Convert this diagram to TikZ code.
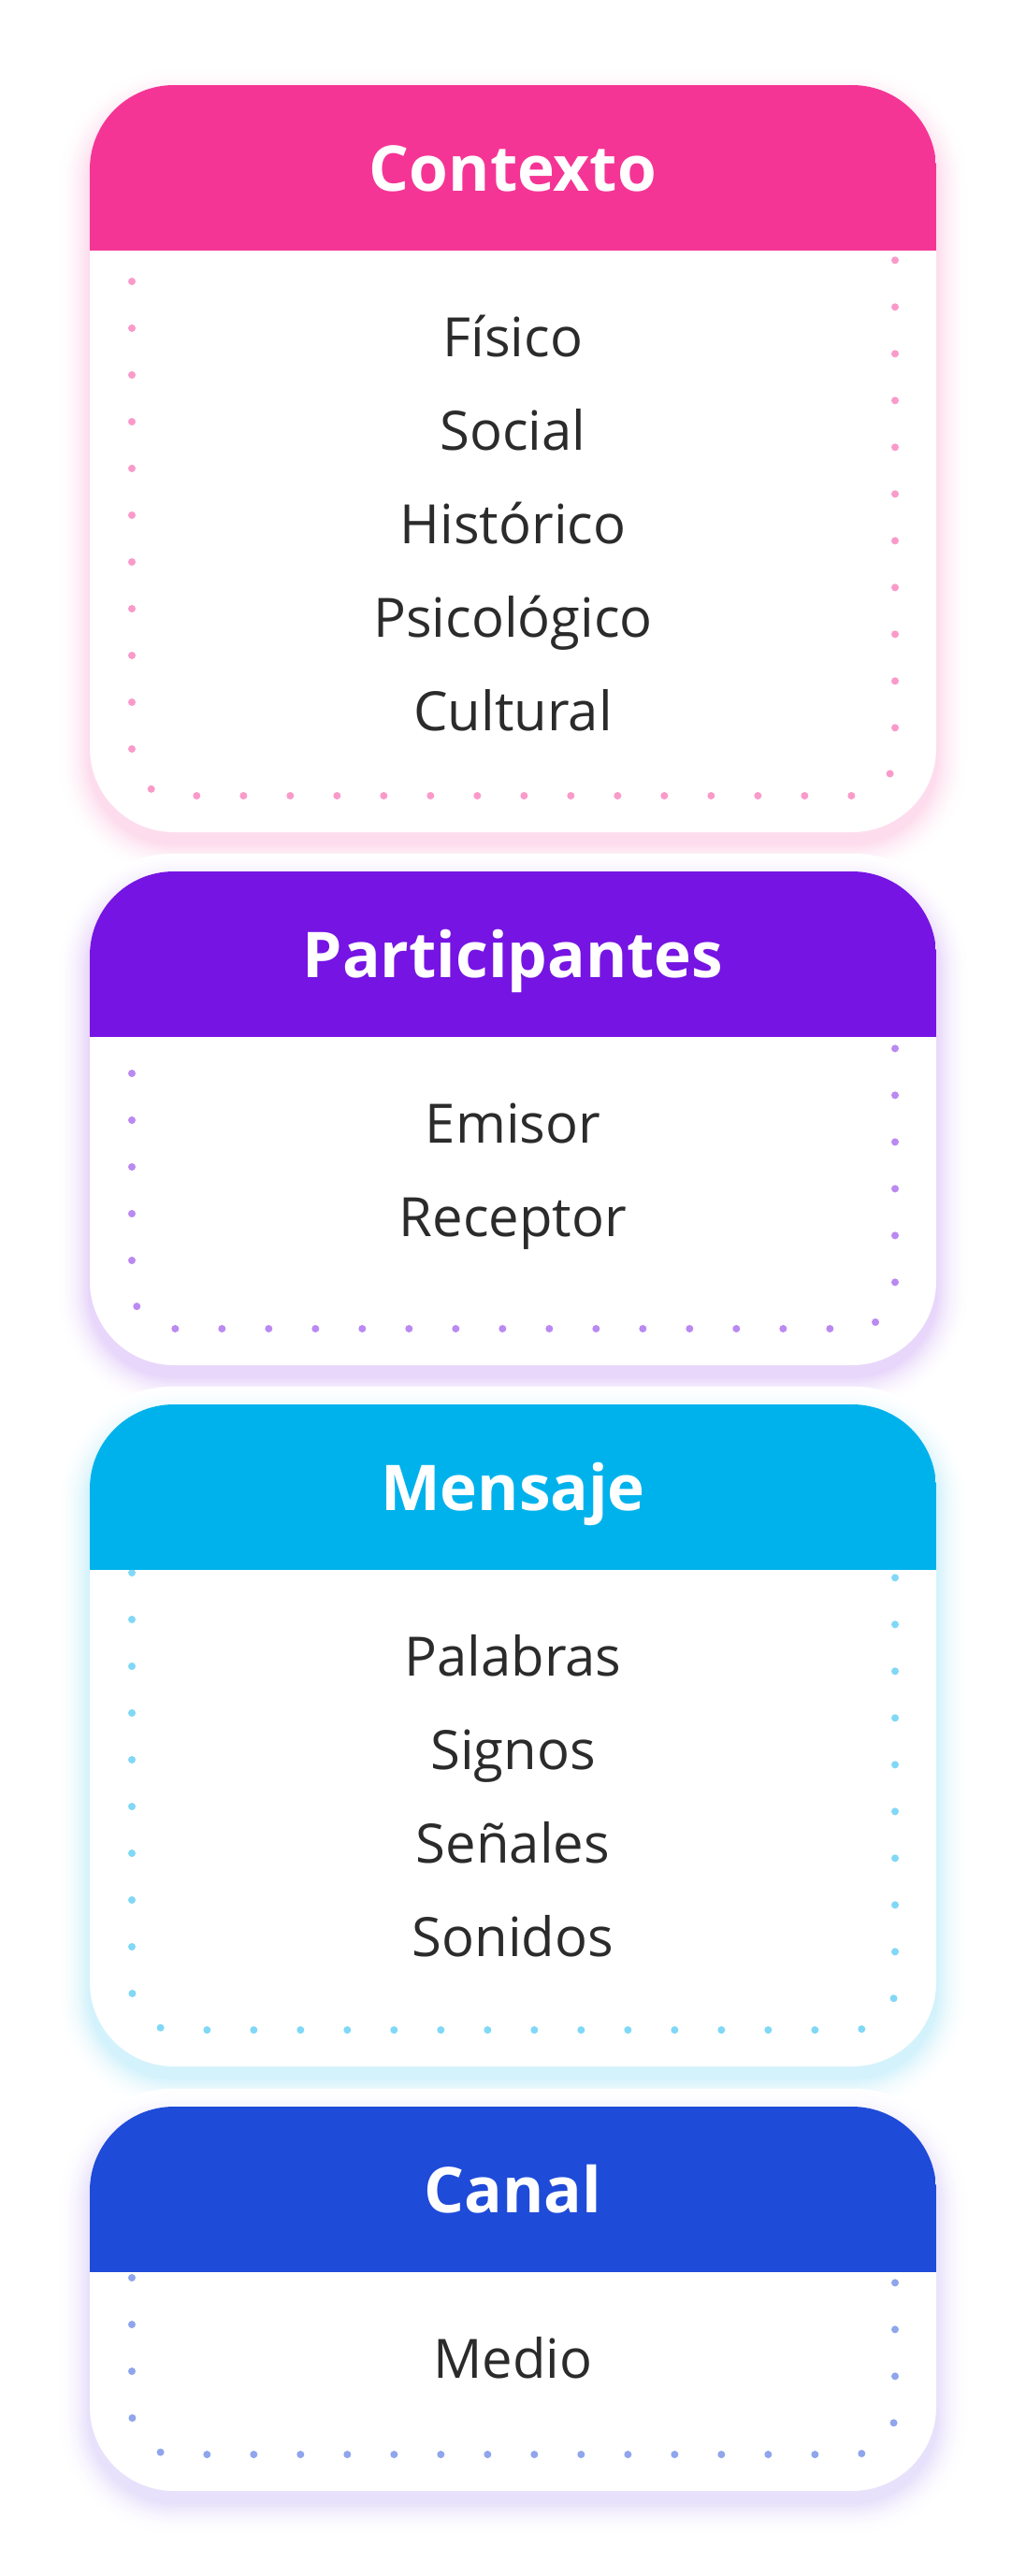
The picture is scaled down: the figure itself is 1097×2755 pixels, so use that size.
\documentclass[tikz,border=0pt]{standalone}
\usepackage{fontspec}
\setmainfont{Open Sans}
\definecolor{cpink}{HTML}{F53595}
\definecolor{cpurple}{HTML}{7614E3}
\definecolor{ccyan}{HTML}{00B2EC}
\definecolor{cblue}{HTML}{1F4BD9}
\definecolor{sblue}{HTML}{7A4FE6}
\definecolor{textgray}{HTML}{2B2B2B}
\tikzset{
  itemtext/.style={font=\fontsize{58}{69}\selectfont, text=textgray, anchor=base, inner sep=0pt},
  titletext/.style={font=\fontsize{67.5}{80}\selectfont\bfseries, text=white, anchor=base, inner sep=0pt},
  dotline/.style={line width=8pt, line cap=round, dash pattern=on 0pt off 50pt},
}
% #1 colour, #2 top, #3 bottom
\newcommand\cardshadow[3]{%
  \foreach \i in {16,15,...,1}{%
    \pgfmathsetmacro\rr{90+2.2*\i}%
    \pgfmathsetmacro\kk{17*((17-\i)/16)^2}%
    \fill[#1!\kk!white, rounded corners=\rr pt] ({96-2.2*\i},{#2+16-2.2*\i}) rectangle ({1001+2.2*\i},{#3+12+2.2*\i});
  }
}
% #1 name, #2 colour, #3 top, #4 bottom, #5 dot start, #6 title
\newcommand\cardbody[6]{%
  \fill[white, rounded corners=90pt] (96,#3) rectangle (1001,#4);
  \begin{scope}
    \clip[rounded corners=90pt] (96,#3) rectangle (1001,#4);
    \draw[dotline, #2!50, rounded corners=45pt] (141,#5) -- (141,{#4-39}) -- (957,{#4-39}) -- (957,#3);
    \fill[#2] (96,#3) rectangle (1001,{#3+177});
  \end{scope}
  \node[titletext] (#1-title) at (548.5,{#3+113}) {#6};
}
\begin{document}
\begin{tikzpicture}[x=1pt,y=-1pt]
\useasboundingbox[fill=white] (0,0) rectangle (1097,2755);

\cardshadow{cpink}{91}{890}
\cardshadow{cpurple}{932}{1460}
\cardshadow{ccyan}{1502}{2210}
\cardshadow{sblue}{2253}{2664}

\cardbody{contexto}{cpink}{91}{890}{251}{Contexto}
\node[itemtext] (fisico) at (548.5,381) {Físico};
\node[itemtext] (social) at (548.5,481) {Social};
\node[itemtext] (historico) at (548.5,581) {Histórico};
\node[itemtext] (psicologico) at (548.5,681) {Psicológico};
\node[itemtext] (cultural) at (548.5,781) {Cultural};

\cardbody{participantes}{cpurple}{932}{1460}{1098}{Participantes}
\node[itemtext] (emisor) at (548.5,1222) {Emisor};
\node[itemtext] (receptor) at (548.5,1322) {Receptor};

\cardbody{mensaje}{ccyan}{1502}{2210}{1632}{Mensaje}
\node[itemtext] (palabras) at (548.5,1792) {Palabras};
\node[itemtext] (signos) at (548.5,1892) {Signos};
\node[itemtext] (senales) at (548.5,1992) {Señales};
\node[itemtext] (sonidos) at (548.5,2092) {Sonidos};

\cardbody{canal}{cblue}{2253}{2664}{2386}{Canal}
\node[itemtext] (medio) at (548.5,2543) {Medio};
\end{tikzpicture}
\end{document}
